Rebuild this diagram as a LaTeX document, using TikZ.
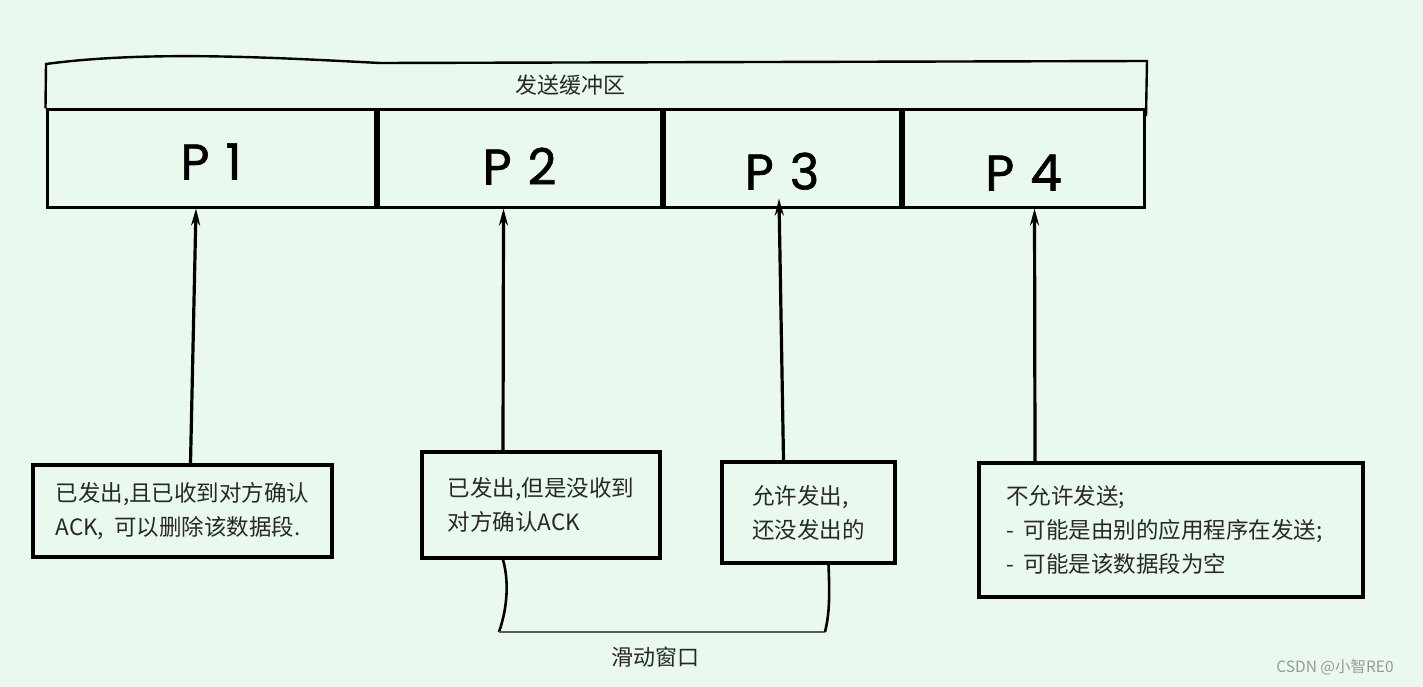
\documentclass[tikz,border=0pt]{standalone}
\usepackage{fontspec}
\setmainfont{Noto Sans CJK SC}
\newfontfamily\pfont{Poppins}[UprightFeatures={FakeBold=1.2}]
\usetikzlibrary{arrows.meta,positioning}
\definecolor{sfondo}{RGB}{233,249,237}
\definecolor{testo}{RGB}{40,40,40}
\newcommand\etich[2]{\raisebox{#1}[0pt][0pt]{P\hspace{16pt}#2}}
\begin{document}
\begin{tikzpicture}[x=1pt,y=-1pt,
    cella/.style={draw,line width=3pt,minimum height=97pt,inner sep=0pt,
      font=\pfont\fontsize{50}{50}\selectfont},
    casella/.style={draw,line width=3.4pt,align=left,text=testo,
      font=\fontsize{22.5}{34}\selectfont},
    scritta/.style={text=testo,font=\fontsize{22}{26}\selectfont},
    freccia/.style={line width=3.2pt,-{Stealth[length=17pt,width=9pt]}}]
    \useasboundingbox[fill=sfondo] (0,0) rectangle (1423,687);
    % --- buffer di invio: quattro segmenti ---
    \node[cella,minimum width=328pt] (p1) at (211,158.5) {\etich{-21pt}{1}};
    \node[cella,minimum width=283pt,right=0pt of p1] (p2) {\etich{-26pt}{2}};
    \node[cella,minimum width=236pt,right=0pt of p2] (p3) {\etich{-31pt}{3}};
    \node[cella,minimum width=241pt,right=0pt of p3] (p4) {\etich{-32pt}{4}};
    \draw[line width=2.4pt] (p1.north west) -- (46,64)
      .. controls (150,50) and (280,58) .. (380,63) -- (1147,61) -- (1146,116);
    \node[scritta] (buf) at (570,85) {发送缓冲区};
    % --- descrizioni dei segmenti ---
    \node[casella,minimum width=299pt,minimum height=92pt] (b1) at (182.5,511)
      {已发出,且已收到对方确认\\ACK,\ \ 可以删除该数据段.};
    \node[casella,minimum width=238pt,minimum height=106pt] (b2) at (541,505)
      {已发出,但是没收到\\对方确认ACK};
    \node[casella,minimum width=173pt,minimum height=101pt] (b3) at (808.5,512.5)
      {允许发出,\\还没发出的};
    \node[casella,minimum width=384pt,minimum height=134pt] (b4) at (1171,530)
      {\raisebox{-10pt}{\parbox{330pt}{不允许发送;\\-\ \ 可能是由别的应用程序在发送;\\-\ \ 可能是该数据段为空}}};
    \draw[freccia] ([xshift=8pt]b1.north) -- ([xshift=-15pt]p1.south);
    \draw[freccia] ([xshift=-38pt]b2.north) -- ([xshift=-16pt]p2.south);
    \draw[freccia] ([xshift=-25pt]b3.north) -- ([xshift=-3pt,yshift=10pt]p3.south);
    \draw[freccia] ([xshift=-136pt]b4.north) -- ([xshift=11pt]p4.south);
    % --- finestra scorrevole ---
    \coordinate (fs) at (499,632);
    \coordinate (fd) at (825,632);
    \draw[line width=2.6pt] ([xshift=-38pt]b2.south) .. controls (510,585) and (506,612) .. (fs);
    \draw[line width=1.2pt,black!65] (fs) -- (fd);
    \draw[line width=2.6pt] ([xshift=20pt]b3.south) .. controls (830,600) and (829,615) .. (fd);
    \node[scritta] (finestra) at (655,657) {滑动窗口};
    \node[text=black!40,font=\fontsize{15.5}{15}\selectfont] (firma) at (1335,667) {CSDN @小智RE0};
  \end{tikzpicture}
\end{document}
